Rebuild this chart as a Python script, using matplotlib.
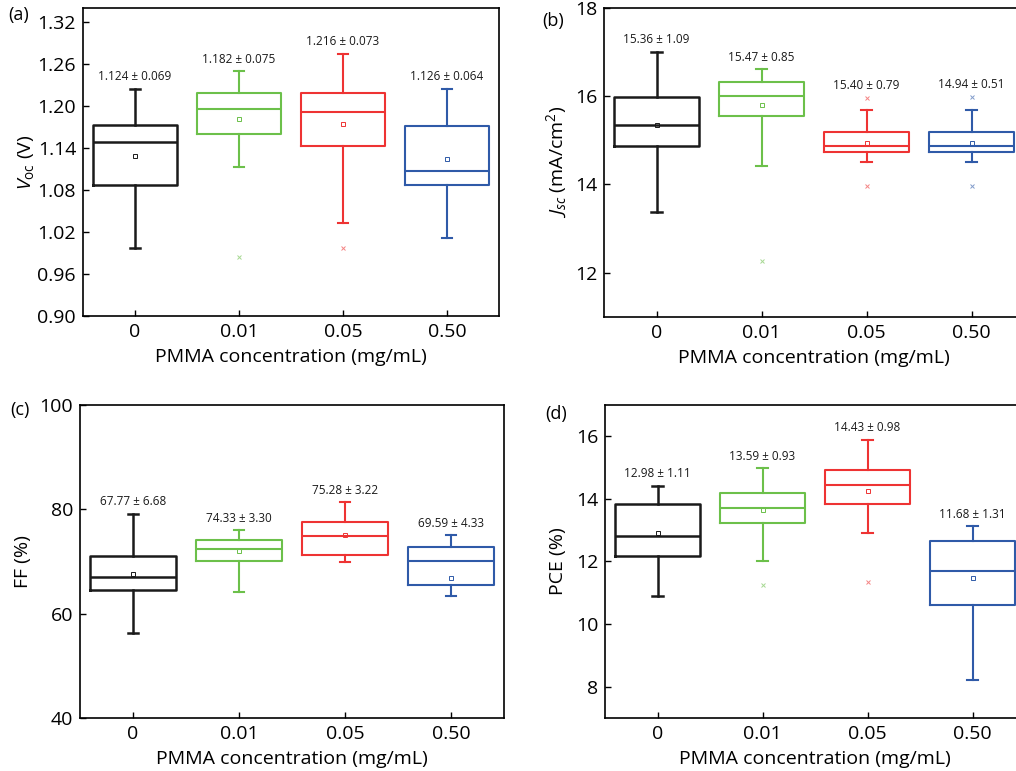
import matplotlib
matplotlib.use("Agg")
import matplotlib.pyplot as plt

plt.rcParams['font.family'] = ['Open Sans', 'DejaVu Sans']
plt.rcParams['mathtext.fontset'] = 'custom'
plt.rcParams['mathtext.rm'] = 'Open Sans'
plt.rcParams['mathtext.it'] = 'Open Sans:italic'

groups = ['0', '0.01', '0.05', '0.50']
colors = ['#1a1a1a', '#6cc04a', '#ee3333', '#2f5aa8']

# Voc (V)
voc_q1 = [1.088, 1.160, 1.1435, 1.087]
voc_med = [1.149, 1.196, 1.191, 1.108]
voc_q3 = [1.1735, 1.218, 1.218, 1.171]
voc_lo = [0.9975, 1.113, 1.033, 1.011]
voc_hi = [1.225, 1.250, 1.275, 1.225]
voc_mean = [1.129, 1.181, 1.174, 1.125]
voc_fliers = [[], [0.985], [0.998], []]
voc_avg = [1.124, 1.182, 1.216, 1.126]
voc_sd = [0.069, 0.075, 0.073, 0.064]

# Jsc (mA/cm2)
jsc_q1 = [14.86, 15.55, 14.74, 14.74]
jsc_med = [15.35, 16.00, 14.87, 14.87]
jsc_q3 = [15.99, 16.33, 15.18, 15.18]
jsc_lo = [13.38, 14.42, 14.50, 14.50]
jsc_hi = [17.00, 16.61, 15.69, 15.69]
jsc_mean = [15.35, 15.80, 14.93, 14.95]
jsc_fliers = [[], [12.26], [15.96, 13.97], [15.98, 13.97]]
jsc_avg = [15.36, 15.47, 15.40, 14.94]
jsc_sd = [1.09, 0.85, 0.79, 0.51]

# FF (%)
ff_q1 = [64.5, 70.0, 71.2, 65.5]
ff_med = [67.0, 72.4, 74.8, 70.0]
ff_q3 = [71.0, 74.2, 77.6, 72.7]
ff_lo = [56.2, 64.2, 69.8, 63.3]
ff_hi = [79.1, 76.0, 81.3, 75.0]
ff_mean = [67.5, 72.0, 75.0, 66.9]
ff_fliers = [[], [], [], []]
ff_avg = [67.77, 74.33, 75.28, 69.59]
ff_sd = [6.68, 3.30, 3.22, 4.33]

# PCE (%)
pce_q1 = [12.16, 13.24, 13.83, 10.60]
pce_med = [12.80, 13.72, 14.44, 11.71]
pce_q3 = [13.82, 14.20, 14.91, 12.66]
pce_lo = [10.89, 12.00, 12.92, 8.20]
pce_hi = [14.41, 14.98, 15.88, 13.13]
pce_mean = [12.91, 13.64, 14.24, 11.46]
pce_fliers = [[], [11.24], [11.34], []]
pce_avg = [12.98, 13.59, 14.43, 11.68]
pce_sd = [1.11, 0.93, 0.98, 1.31]


def draw_panel(ax, q1, med, q3, lo, hi, mean, fliers, avg, sd, fmt):
    for i in range(len(groups)):
        stats = [dict(med=med[i], q1=q1[i], q3=q3[i], whislo=lo[i], whishi=hi[i],
                      mean=mean[i], fliers=fliers[i])]
        c = colors[i]
        lw = 1.8 if i == 0 else 1.5
        ax.bxp(stats, positions=[i], widths=0.81, capwidths=0.1, showmeans=True,
               boxprops=dict(color=c, lw=lw), medianprops=dict(color=c, lw=lw),
               whiskerprops=dict(color=c, lw=lw), capprops=dict(color=c, lw=lw),
               meanprops=dict(marker='s', markersize=3, markerfacecolor='none',
                              markeredgecolor=c, markeredgewidth=0.7),
               flierprops=dict(marker='x', markersize=3, markeredgecolor=c,
                               markeredgewidth=0.7, alpha=0.6))
        top = max([hi[i]] + list(fliers[i]))
        ax.annotate(fmt.format(avg[i], sd[i]), xy=(i, top), xytext=(0, 4),
                    textcoords='offset points', ha='center', va='bottom',
                    fontsize=8.5, color='#1a1a1a')
    ax.set_xlim(-0.5, 3.5)
    ax.set_xticks(range(len(groups)))
    ax.set_xticklabels(groups)
    ax.tick_params(direction='in', labelsize=14, length=4, width=1, pad=5)
    ax.set_xlabel('PMMA concentration (mg/mL)', fontsize=14, labelpad=5)
    for s in ax.spines.values():
        s.set_linewidth(1.2)


fig = plt.figure(figsize=(10.16, 7.71), dpi=100)

ax_a = fig.add_axes([0.0817, 0.590, 0.4094, 0.3995])
draw_panel(ax_a, voc_q1, voc_med, voc_q3, voc_lo, voc_hi, voc_mean, voc_fliers,
           voc_avg, voc_sd, '{:.3f} ± {:.3f}')
ax_a.set_ylim(0.90, 1.34)
ax_a.set_yticks([0.90, 0.96, 1.02, 1.08, 1.14, 1.20, 1.26, 1.32])
ax_a.set_ylabel('$V_{\\mathrm{oc}}$ (V)', fontsize=14, labelpad=1)

ax_b = fig.add_axes([0.5945, 0.589, 0.4134, 0.4008])
draw_panel(ax_b, jsc_q1, jsc_med, jsc_q3, jsc_lo, jsc_hi, jsc_mean, jsc_fliers,
           jsc_avg, jsc_sd, '{:.2f} ± {:.2f}')
ax_b.set_ylim(11, 18)
ax_b.set_yticks([12, 14, 16, 18])
ax_b.set_ylabel('$J_{sc}$ (mA/cm$^{2}$)', fontsize=14, labelpad=4)

ax_c = fig.add_axes([0.0787, 0.0688, 0.4173, 0.4060])
draw_panel(ax_c, ff_q1, ff_med, ff_q3, ff_lo, ff_hi, ff_mean, ff_fliers,
           ff_avg, ff_sd, '{:.2f} ± {:.2f}')
ax_c.set_ylim(40, 100)
ax_c.set_yticks([40, 60, 80, 100])
ax_c.set_ylabel('FF (%)', fontsize=14, labelpad=5)

ax_d = fig.add_axes([0.5955, 0.0688, 0.4134, 0.4060])
draw_panel(ax_d, pce_q1, pce_med, pce_q3, pce_lo, pce_hi, pce_mean, pce_fliers,
           pce_avg, pce_sd, '{:.2f} ± {:.2f}')
ax_d.set_ylim(7, 17)
ax_d.set_yticks([8, 10, 12, 14, 16])
ax_d.set_ylabel('PCE (%)', fontsize=14, labelpad=6)

# panel letters
fig.text(0.008, 0.980, '(a)', fontsize=13, va='center')
fig.text(0.534, 0.973, '(b)', fontsize=13, va='center')
fig.text(0.010, 0.468, '(c)', fontsize=13, va='center')
fig.text(0.537, 0.463, '(d)', fontsize=13, va='center')

fig.savefig('out.png', dpi=100)
